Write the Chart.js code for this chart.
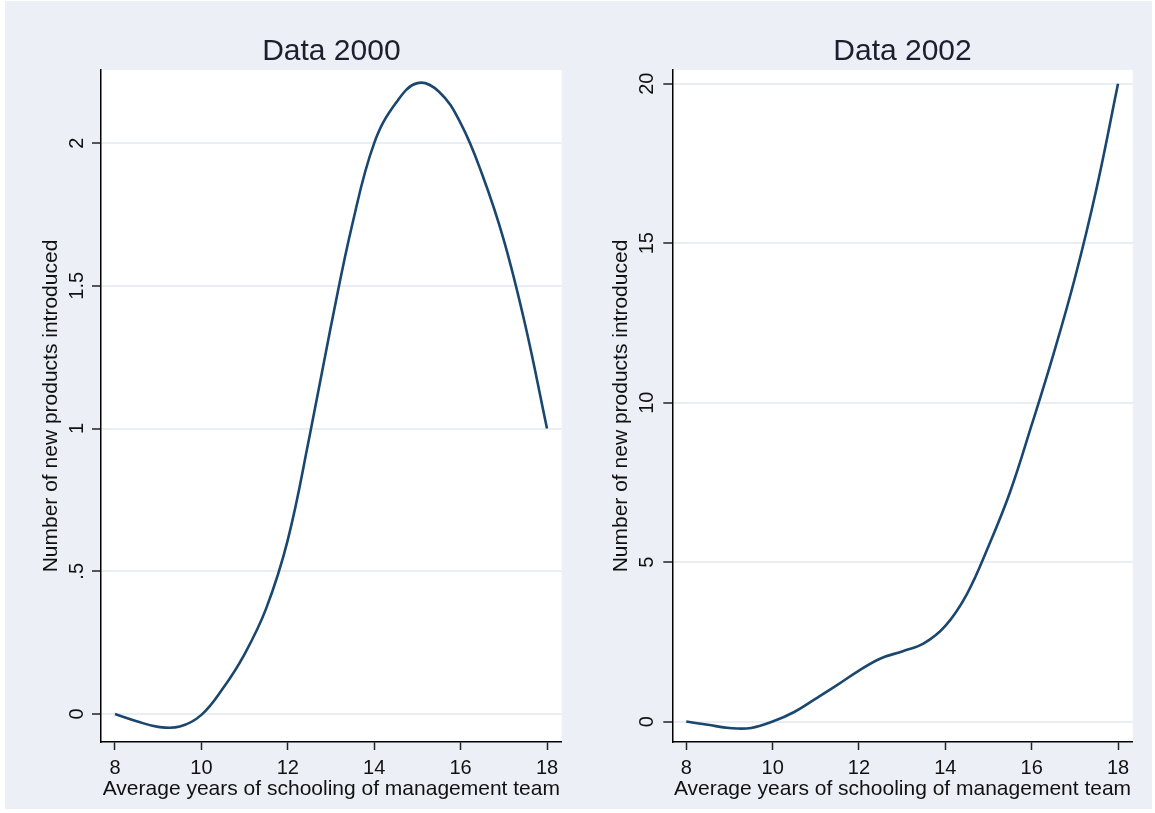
<!DOCTYPE html>
<html>
<head>
<meta charset="utf-8">
<script src="https://cdn.jsdelivr.net/npm/chart.js@4.4.1/dist/chart.umd.min.js"></script>
<style>
  html, body { margin: 0; padding: 0; background: #ffffff; }
  #frame { position: absolute; left: 5px; top: 1px; width: 1147px; height: 808px; background: #ecf0f6; }
  canvas { position: absolute; top: 0; }
</style>
</head>
<body>
<div id="frame"></div>
<canvas id="panel2000" width="578" height="813" style="left:0px"></canvas>
<canvas id="panel2002" width="577" height="813" style="left:578px"></canvas>
<script>
// Smoothed curves: new products introduced vs. average schooling of the management team
const years2000 = [8, 8.5, 9, 9.5, 10, 10.5, 11, 11.5, 12, 12.5, 13, 13.5, 14, 14.5, 15, 15.5, 16, 16.5, 17, 17.5, 18];
const products2000 = [0, -0.025, -0.045, -0.044, -0.003, 0.09, 0.21, 0.37, 0.61, 0.97, 1.36, 1.72, 2.0, 2.14, 2.21, 2.18, 2.07, 1.89, 1.66, 1.36, 1.0];

const years2002 = [8, 8.5, 9, 9.5, 10, 10.5, 11, 11.5, 12, 12.5, 13, 13.5, 14, 14.5, 15, 15.5, 16, 16.5, 17, 17.5, 18];
const products2002 = [0, -0.1, -0.2, -0.2, 0, 0.3, 0.72, 1.15, 1.6, 1.98, 2.2, 2.45, 3.0, 4.0, 5.5, 7.2, 9.3, 11.5, 13.9, 16.7, 20.0];

const xTickValues = [8, 10, 12, 14, 16, 18];
const yTicks2000 = [0, 0.5, 1, 1.5, 2];
const yTickLabels2000 = ['0', '.5', '1', '1.5', '2'];
const yTicks2002 = [0, 5, 10, 15, 20];
const yTickLabels2002 = ['0', '5', '10', '15', '20'];

const panelTitles = ['Data 2000', 'Data 2002'];
const xAxisTitle = 'Average years of schooling of management team';
const yAxisTitle = 'Number of new products introduced';

const FONT = "'Liberation Sans', Arial, Helvetica, sans-serif";
const LINE_COLOR = '#1a476f';
const TEXT_COLOR = '#111111';

// White plot region, rotated y tick labels and the panel heading
const stataPanel = {
  id: 'stataPanel',
  beforeDraw(chart) {
    const a = chart.chartArea;
    const ctx = chart.ctx;
    ctx.save();
    ctx.fillStyle = '#ffffff';
    ctx.fillRect(a.left, a.top, a.right - a.left, a.bottom - a.top);
    ctx.restore();
  },
  afterDraw(chart, args, opts) {
    const ctx = chart.ctx;
    const a = chart.chartArea;
    const yScale = chart.scales.y;
    ctx.save();
    ctx.fillStyle = TEXT_COLOR;
    ctx.font = '20px ' + FONT;
    ctx.textAlign = 'center';
    ctx.textBaseline = 'alphabetic';
    const bx = a.left - opts.labelOffset;
    opts.tickValues.forEach((v, i) => {
      const py = yScale.getPixelForValue(v);
      ctx.save();
      ctx.translate(bx, py);
      ctx.rotate(-Math.PI / 2);
      ctx.fillText(opts.tickLabels[i], 0, 0);
      ctx.restore();
    });
    ctx.font = '30px ' + FONT;
    ctx.fillStyle = '#1b1f2e';
    ctx.fillText(opts.title, (a.left + a.right) / 2, 59.5);
    ctx.restore();
  }
};

function buildPanel(canvasId, title, xs, ys, yTicks, yLabels, yMin, yMax, padRight, yTitlePad, labelOffset, yWidth) {
  const points = xs.map((x, i) => ({ x: x, y: ys[i] }));
  return new Chart(document.getElementById(canvasId), {
    type: 'line',
    data: {
      datasets: [{
        data: points,
        borderColor: LINE_COLOR,
        borderWidth: 2.6,
        pointRadius: 0,
        fill: false,
        tension: 0.4
      }]
    },
    options: {
      responsive: false,
      animation: false,
      devicePixelRatio: 1,
      layout: { padding: { left: 0, top: 70, right: padRight, bottom: 0 } },
      plugins: {
        legend: { display: false },
        title: { display: false },
        tooltip: { enabled: false },
        stataPanel: { title: title, tickValues: yTicks, tickLabels: yLabels, labelOffset: labelOffset }
      },
      scales: {
        x: {
          type: 'linear',
          min: 7.676,
          max: 18.34,
          afterBuildTicks: (scale) => { scale.ticks = xTickValues.map(v => ({ value: v })); },
          afterFit: (scale) => { scale.height = 71; },
          ticks: {
            color: TEXT_COLOR,
            font: { family: FONT, size: 20 },
            padding: 6,
            maxRotation: 0,
            autoSkip: false,
            callback: (v) => String(v)
          },
          grid: {
            drawOnChartArea: false,
            drawTicks: true,
            tickLength: 8,
            tickColor: '#222222',
            tickWidth: 1.5
          },
          border: { display: true, color: '#000000', width: 1.5 },
          title: {
            display: true,
            text: xAxisTitle,
            color: TEXT_COLOR,
            font: { family: FONT, size: 21 },
            padding: { top: 0, bottom: 11 }
          }
        },
        y: {
          type: 'linear',
          min: yMin,
          max: yMax,
          afterBuildTicks: (scale) => { scale.ticks = yTicks.map(v => ({ value: v })); },
          afterFit: (scale) => { scale.width = yWidth; },
          ticks: { display: false },
          grid: {
            color: '#e9eef4',
            lineWidth: 2,
            drawTicks: true,
            tickLength: 9,
            tickColor: '#222222',
            tickWidth: 1.5
          },
          border: { display: true, color: '#000000', width: 1.5 },
          title: {
            display: true,
            text: yAxisTitle,
            color: TEXT_COLOR,
            font: { family: FONT, size: 21 },
            padding: { top: yTitlePad, bottom: 0 }
          }
        }
      }
    },
    plugins: [stataPanel]
  });
}

const chart2000 = buildPanel('panel2000', panelTitles[0], years2000, products2000,
  yTicks2000, yTickLabels2000, -0.098, 2.256, 16.3, 38.4, 18.5, 101);

const chart2002 = buildPanel('panel2002', panelTitles[1], years2002, products2002,
  yTicks2002, yTickLabels2002, -0.64, 20.43, 22.3, 30.4, 19.5, 94.3);
</script>
</body>
</html>
